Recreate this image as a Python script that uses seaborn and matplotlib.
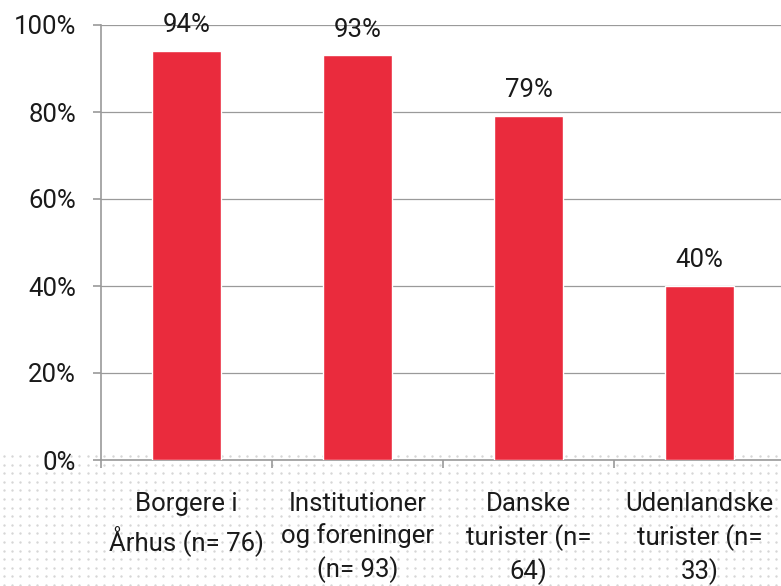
import numpy as np
import pandas as pd
import seaborn as sns
import matplotlib.pyplot as plt
from matplotlib.ticker import FixedLocator, PercentFormatter

categories = ['Borgere i\nÅrhus (n= 76)', 'Institutioner\nog foreninger\n(n= 93)',
              'Danske\nturister (n=\n64)', 'Udenlandske\nturister (n=\n33)']
values = [0.94, 0.93, 0.79, 0.40]
value_labels = ['94%', '93%', '79%', '40%']
y_ticks = [0, 0.2, 0.4, 0.6, 0.8, 1.0]

bar_color = '#EA2B3D'
grey = '#9a9a9a'

sns.set_style('white')
plt.rcParams['font.family'] = ['Roboto', 'DejaVu Sans']

fig = plt.figure(figsize=(7.81, 5.86), dpi=100)

# dotted decoration behind the lower part of the figure
bg = fig.add_axes([0, 0, 1, 1], zorder=0)
bg.set_xlim(0, 781)
bg.set_ylim(586, 0)
bg.axis('off')
gx, gy = np.meshgrid(np.arange(3.5, 781, 8.4), np.arange(456, 590, 8.6))
bg.scatter(gx.ravel(), gy.ravel(), s=3, color='#d6d6d6', linewidths=0)

ax = fig.add_axes([101 / 781, 126 / 586, 680 / 781, 435 / 586], zorder=1)
ax.patch.set_alpha(0)

df = pd.DataFrame({'kategori': categories, 'andel': values})
sns.barplot(data=df, x='kategori', y='andel', color=bar_color, width=0.4,
            saturation=1, ax=ax, zorder=3)

for i, (v, lab) in enumerate(zip(values, value_labels)):
    ax.annotate(lab, (i, v), xytext=(0, 10), textcoords='offset points',
                ha='center', va='bottom', fontsize=18.5, color='#1a1a1a')

ax.set_ylim(0, 1)
ax.set_xlim(-0.5, 3.5 - 4 * 4 / 684)
ax.yaxis.set_major_locator(FixedLocator(y_ticks))
ax.yaxis.set_major_formatter(PercentFormatter(1.0, decimals=0))
ax.grid(axis='y', color=grey, linewidth=0.9, zorder=0)
ax.set_axisbelow(True)

ax.xaxis.set_minor_locator(FixedLocator([-0.5, 0.5, 1.5, 2.5, 3.5]))
ax.tick_params(axis='x', which='major', length=0, pad=23, labelsize=18.5,
               labelcolor='#1a1a1a')
ax.tick_params(axis='x', which='minor', length=6, width=1.2, color=grey,
               direction='out', bottom=True)
ax.tick_params(axis='y', length=6, width=1.2, color=grey, direction='out',
               left=True, pad=12, labelsize=18.5, labelcolor='#1a1a1a')
for t in ax.get_xticklabels():
    t.set_linespacing(1.38)
    t.set_va('top')

for side in ['top', 'right']:
    ax.spines[side].set_visible(False)
for side in ['left', 'bottom']:
    ax.spines[side].set_color(grey)
    ax.spines[side].set_linewidth(1.2)

ax.set_xlabel('')
ax.set_ylabel('')

fig.savefig('out.png', dpi=100)
